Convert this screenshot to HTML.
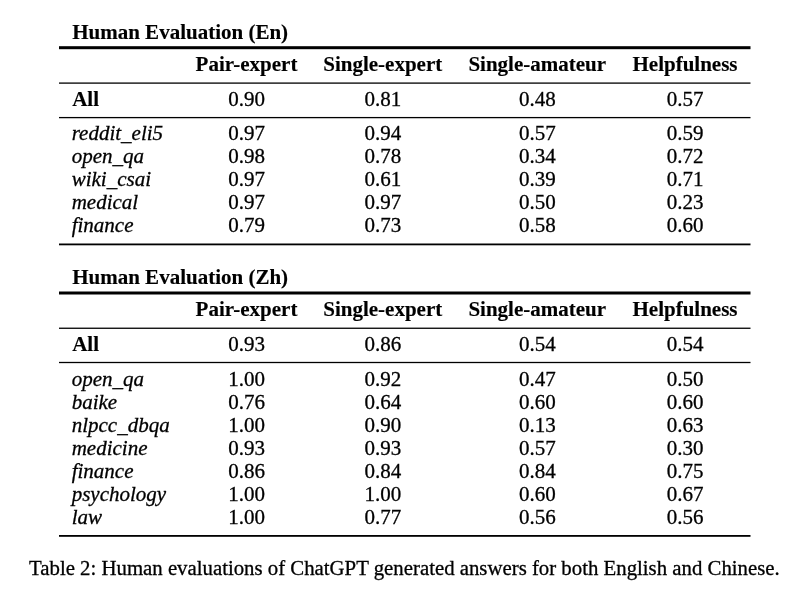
<!DOCTYPE html>
<html><head><meta charset="utf-8"><title>Table 2</title>
<style>
html,body{margin:0;padding:0;background:#fff;}
body{width:800px;height:590px;position:relative;overflow:hidden;font-family:"Liberation Serif",serif;font-size:21.0px;line-height:24px;color:#000;}
.r{position:absolute;left:0;width:800px;height:24px;will-change:transform;}
.r span{position:absolute;top:0;white-space:nowrap;}
.c{width:200px;text-align:center;}
.r span,.cap{-webkit-text-stroke:0.3px #000;}
.r span.b{font-weight:bold;-webkit-text-stroke:0.15px #000;}
.r span.i{font-style:italic;font-feature-settings:"dlig" 1;margin-left:-0.5px;}
.rules{position:absolute;left:0;top:0;}
.cap{will-change:transform;position:absolute;left:28.7px;white-space:nowrap;font-size:20.81px;}
</style></head><body>
<svg class="rules" width="800" height="590" viewBox="0 0 800 590">
<rect x="59" y="46.20" width="691.5" height="3.0" fill="#000"/>
<rect x="59" y="82.45" width="691.5" height="1.3" fill="#000"/>
<rect x="59" y="116.95" width="691.5" height="1.3" fill="#000"/>
<rect x="59" y="243.50" width="691.5" height="1.8" fill="#000"/>
<rect x="59" y="291.50" width="691.5" height="3.0" fill="#000"/>
<rect x="59" y="327.60" width="691.5" height="1.3" fill="#000"/>
<rect x="59" y="361.85" width="691.5" height="1.3" fill="#000"/>
<rect x="59" y="535.00" width="691.5" height="1.8" fill="#000"/>
</svg>
<div class="r" style="top:20.00px"><span class="l b" style="left:72.2px">Human Evaluation (En)</span></div>
<div class="r" style="top:52.00px"><span class="c b" style="left:146.50px">Pair-expert</span><span class="c b" style="left:282.75px">Single-expert</span><span class="c b" style="left:437.25px">Single-amateur</span><span class="c b" style="left:585.00px">Helpfulness</span></div>
<div class="r" style="top:87.00px"><span class="l b" style="left:72.2px">All</span><span class="c " style="left:146.50px">0.90</span><span class="c " style="left:282.75px">0.81</span><span class="c " style="left:437.25px">0.48</span><span class="c " style="left:585.00px">0.57</span></div>
<div class="r" style="top:121.00px"><span class="l i" style="left:72.2px">reddit_eli5</span><span class="c " style="left:146.50px">0.97</span><span class="c " style="left:282.75px">0.94</span><span class="c " style="left:437.25px">0.57</span><span class="c " style="left:585.00px">0.59</span></div>
<div class="r" style="top:144.00px"><span class="l i" style="left:72.2px">open_qa</span><span class="c " style="left:146.50px">0.98</span><span class="c " style="left:282.75px">0.78</span><span class="c " style="left:437.25px">0.34</span><span class="c " style="left:585.00px">0.72</span></div>
<div class="r" style="top:167.00px"><span class="l i" style="left:72.2px">wiki_csai</span><span class="c " style="left:146.50px">0.97</span><span class="c " style="left:282.75px">0.61</span><span class="c " style="left:437.25px">0.39</span><span class="c " style="left:585.00px">0.71</span></div>
<div class="r" style="top:190.00px"><span class="l i" style="left:72.2px">medical</span><span class="c " style="left:146.50px">0.97</span><span class="c " style="left:282.75px">0.97</span><span class="c " style="left:437.25px">0.50</span><span class="c " style="left:585.00px">0.23</span></div>
<div class="r" style="top:213.00px"><span class="l i" style="left:72.2px">finance</span><span class="c " style="left:146.50px">0.79</span><span class="c " style="left:282.75px">0.73</span><span class="c " style="left:437.25px">0.58</span><span class="c " style="left:585.00px">0.60</span></div>
<div class="r" style="top:265.00px"><span class="l b" style="left:72.2px">Human Evaluation (Zh)</span></div>
<div class="r" style="top:297.00px"><span class="c b" style="left:146.50px">Pair-expert</span><span class="c b" style="left:282.75px">Single-expert</span><span class="c b" style="left:437.25px">Single-amateur</span><span class="c b" style="left:585.00px">Helpfulness</span></div>
<div class="r" style="top:332.00px"><span class="l b" style="left:72.2px">All</span><span class="c " style="left:146.50px">0.93</span><span class="c " style="left:282.75px">0.86</span><span class="c " style="left:437.25px">0.54</span><span class="c " style="left:585.00px">0.54</span></div>
<div class="r" style="top:367.00px"><span class="l i" style="left:72.2px">open_qa</span><span class="c " style="left:146.50px">1.00</span><span class="c " style="left:282.75px">0.92</span><span class="c " style="left:437.25px">0.47</span><span class="c " style="left:585.00px">0.50</span></div>
<div class="r" style="top:390.00px"><span class="l i" style="left:72.2px">baike</span><span class="c " style="left:146.50px">0.76</span><span class="c " style="left:282.75px">0.64</span><span class="c " style="left:437.25px">0.60</span><span class="c " style="left:585.00px">0.60</span></div>
<div class="r" style="top:413.00px"><span class="l i" style="left:72.2px">nlpcc_dbqa</span><span class="c " style="left:146.50px">1.00</span><span class="c " style="left:282.75px">0.90</span><span class="c " style="left:437.25px">0.13</span><span class="c " style="left:585.00px">0.63</span></div>
<div class="r" style="top:436.00px"><span class="l i" style="left:72.2px">medicine</span><span class="c " style="left:146.50px">0.93</span><span class="c " style="left:282.75px">0.93</span><span class="c " style="left:437.25px">0.57</span><span class="c " style="left:585.00px">0.30</span></div>
<div class="r" style="top:459.00px"><span class="l i" style="left:72.2px">finance</span><span class="c " style="left:146.50px">0.86</span><span class="c " style="left:282.75px">0.84</span><span class="c " style="left:437.25px">0.84</span><span class="c " style="left:585.00px">0.75</span></div>
<div class="r" style="top:482.00px"><span class="l i" style="left:72.2px">psychology</span><span class="c " style="left:146.50px">1.00</span><span class="c " style="left:282.75px">1.00</span><span class="c " style="left:437.25px">0.60</span><span class="c " style="left:585.00px">0.67</span></div>
<div class="r" style="top:505.00px"><span class="l i" style="left:72.2px">law</span><span class="c " style="left:146.50px">1.00</span><span class="c " style="left:282.75px">0.77</span><span class="c " style="left:437.25px">0.56</span><span class="c " style="left:585.00px">0.56</span></div>
<div class="cap" style="top:556.00px">Table 2: Human evaluations of ChatGPT generated answers for both English and Chinese.</div>
</body></html>
